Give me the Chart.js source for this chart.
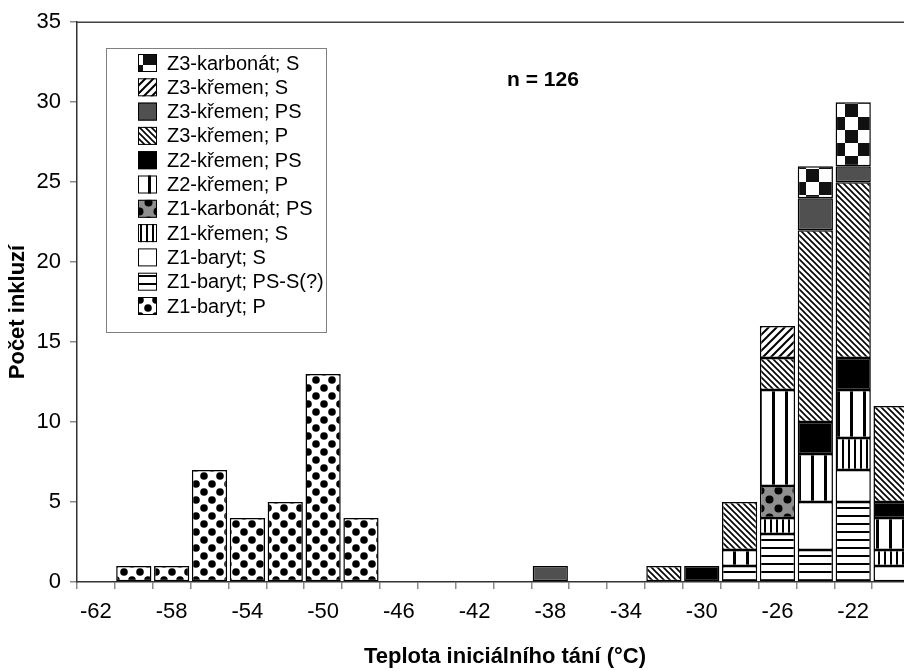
<!DOCTYPE html>
<html><head><meta charset="utf-8">
<script src="https://cdn.jsdelivr.net/npm/chart.js@4.4.1/dist/chart.umd.min.js"></script>
<style>
html,body{margin:0;padding:0;overflow:hidden;background:#fff;width:904px;height:671px}
#wrap{position:relative;width:920px;height:671px}
</style>
</head><body><div id="wrap"><canvas id="c" width="920" height="671"></canvas></div>
<script>
// ---- data ----
const categories = ['-62','-60','-58','-56','-54','-52','-50','-48','-46','-44','-42','-40','-38','-36','-34','-32','-30','-28','-26','-24','-22','-20'];
const tickLabels = ['-62','-58','-54','-50','-46','-42','-38','-34','-30','-26','-22'];
const yTickValues = [0,5,10,15,20,25,30,35];
//                     -62 -60 -58 -56 -54 -52 -50 -48 -46 -44 -42 -40 -38 -36 -34 -32 -30 -28 -26 -24 -22 -20
const z1BarytP      = [0,  1,  1,  7,  4,  5, 13,  4,  0,  0,  0,  0,  0,  0,  0,  0,  0,  0,  0,  0,  0,  0];
const z1BarytPSS    = [0,  0,  0,  0,  0,  0,  0,  0,  0,  0,  0,  0,  0,  0,  0,  0,  0,  1,  3,  2,  5,  0];
const z1BarytS      = [0,  0,  0,  0,  0,  0,  0,  0,  0,  0,  0,  0,  0,  0,  0,  0,  0,  0,  0,  3,  2,  1];
const z1KremenS     = [0,  0,  0,  0,  0,  0,  0,  0,  0,  0,  0,  0,  0,  0,  0,  0,  0,  0,  1,  0,  2,  1];
const z1KarbonatPS  = [0,  0,  0,  0,  0,  0,  0,  0,  0,  0,  0,  0,  0,  0,  0,  0,  0,  0,  2,  0,  0,  0];
const z2KremenP     = [0,  0,  0,  0,  0,  0,  0,  0,  0,  0,  0,  0,  0,  0,  0,  0,  0,  1,  6,  3,  3,  2];
const z2KremenPS    = [0,  0,  0,  0,  0,  0,  0,  0,  0,  0,  0,  0,  0,  0,  0,  0,  1,  0,  0,  2,  2,  1];
const z3KremenP     = [0,  0,  0,  0,  0,  0,  0,  0,  0,  0,  0,  0,  0,  0,  0,  1,  0,  3,  2, 12, 11,  6];
const z3KremenPS    = [0,  0,  0,  0,  0,  0,  0,  0,  0,  0,  0,  0,  1,  0,  0,  0,  0,  0,  0,  2,  1,  0];
const z3KremenS     = [0,  0,  0,  0,  0,  0,  0,  0,  0,  0,  0,  0,  0,  0,  0,  0,  0,  0,  2,  0,  0,  0];
const z3KarbonatS   = [0,  0,  0,  0,  0,  0,  0,  0,  0,  0,  0,  0,  0,  0,  0,  0,  0,  0,  0,  2,  4,  0];
const seriesLabels = ['Z1-baryt; P','Z1-baryt; PS-S(?)','Z1-baryt; S','Z1-křemen; S','Z1-karbonát; PS','Z2-křemen; P','Z2-křemen; PS','Z3-křemen; P','Z3-křemen; PS','Z3-křemen; S','Z3-karbonát; S'];
const seriesData = [z1BarytP,z1BarytPSS,z1BarytS,z1KremenS,z1KarbonatPS,z2KremenP,z2KremenPS,z3KremenP,z3KremenPS,z3KremenS,z3KarbonatS];
const sampleCount = 'n = 126';
const xTitle = 'Teplota iniciálního tání (°C)';
const yTitle = 'Počet inkluzí';

// ---- patterns (style) ----
function tile(w,h,draw){const c=document.createElement('canvas');c.width=w;c.height=h;const g=c.getContext('2d');draw(g,w,h);return g.createPattern(c,'repeat');}
function dot(g,x,y,r){g.beginPath();g.arc(x,y,r,0,Math.PI*2);g.fill();}
function diag(g,s,fwd,lw){g.strokeStyle='#000';g.lineWidth=lw;g.beginPath();for(let k=-1;k<=1;k++){if(fwd){g.moveTo(k*s-1,s+1);g.lineTo(k*s+s+1,-1);}else{g.moveTo(k*s-1,-1);g.lineTo(k*s+s+1,s+1);}}g.stroke();}
const fills = [
  tile(16,16,(g,w,h)=>{g.fillStyle='#fff';g.fillRect(0,0,w,h);g.fillStyle='#000';dot(g,4,4,3.8);dot(g,12,12,3.8);}),
  tile(8,8,(g,w,h)=>{g.fillStyle='#fff';g.fillRect(0,0,w,h);g.fillStyle='#000';g.fillRect(0,3,w,2);}),
  '#ffffff',
  tile(6,6,(g,w,h)=>{g.fillStyle='#fff';g.fillRect(0,0,w,h);g.fillStyle='#000';g.fillRect(2,0,2,h);}),
  tile(18,18,(g,w,h)=>{g.fillStyle='#8f8f8f';g.fillRect(0,0,w,h);g.fillStyle='#000';dot(g,4.5,4.5,4);dot(g,13.5,13.5,4);}),
  tile(13,13,(g,w,h)=>{g.fillStyle='#fff';g.fillRect(0,0,w,h);g.fillStyle='#000';g.fillRect(5,0,3,h);}),
  '#000000',
  tile(6,6,(g,w,h)=>{g.fillStyle='#fff';g.fillRect(0,0,w,h);diag(g,w,false,1.6);}),
  '#505050',
  tile(8,8,(g,w,h)=>{g.fillStyle='#fff';g.fillRect(0,0,w,h);diag(g,w,true,2);}),
  tile(26,26,(g,w,h)=>{g.fillStyle='#fff';g.fillRect(0,0,w,h);g.fillStyle='#111';g.fillRect(13,0,13,13);g.fillRect(0,13,13,13);})
];

const datasets = seriesLabels.map((lab,i)=>({
  label: lab,
  data: seriesData[i].map(v => v === 0 ? null : v),
  backgroundColor: fills[i],
  borderColor: '#000',
  borderWidth: 1.5,
  borderSkipped: false,
  categoryPercentage: 1.0,
  barPercentage: 0.93
}));

const FONT = '"Liberation Sans", Arial, sans-serif';

const decor = {
  id: 'decor',
  afterDraw(chart){
    const ctx = chart.ctx, a = chart.chartArea;
    ctx.save();
    // plot frame top/right
    ctx.strokeStyle = '#404040'; ctx.lineWidth = 1.5;
    ctx.beginPath(); ctx.moveTo(a.left, a.top); ctx.lineTo(a.right, a.top); ctx.lineTo(a.right, a.bottom); ctx.stroke();
    // legend box
    const bx = 106, by = 48, bw = 220, bh = 284;
    ctx.fillStyle = '#fff'; ctx.fillRect(bx, by, bw, bh);
    ctx.strokeStyle = '#808080'; ctx.lineWidth = 1; ctx.strokeRect(bx + 0.5, by + 0.5, bw, bh);
    const items = chart.data.datasets.slice().reverse();
    ctx.font = '20px ' + FONT; ctx.textBaseline = 'middle'; ctx.textAlign = 'left';
    items.forEach((d, i) => {
      const cy = 63 + i * 24.3;
      ctx.fillStyle = d.backgroundColor; ctx.fillRect(138, cy - 9, 19, 18);
      ctx.strokeStyle = '#000'; ctx.lineWidth = 1; ctx.strokeRect(138.5, cy - 8.5, 18, 17);
      ctx.fillStyle = '#000'; ctx.fillText(d.label, 167, cy + 1);
    });
    // n label
    ctx.font = 'bold 21px ' + FONT; ctx.textAlign = 'center'; ctx.fillStyle = '#000';
    ctx.fillText(sampleCount, 543, 80);
    // axis titles
    ctx.font = 'bold 22px ' + FONT;
    ctx.fillText(xTitle, 505, 657);
    ctx.translate(18, 312); ctx.rotate(-Math.PI / 2);
    ctx.fillText(yTitle, 0, 0);
    ctx.restore();
  }
};

new Chart(document.getElementById('c'), {
  type: 'bar',
  data: { labels: categories, datasets },
  options: {
    responsive: false,
    animation: false,
    layout: { padding: { top: 22, right: 10, bottom: 0, left: 0 } },
    plugins: { legend: { display: false }, tooltip: { enabled: false } },
    scales: {
      x: {
        stacked: true,
        offset: true,
        grid: { display: true, offset: true, drawOnChartArea: false, drawTicks: true, tickLength: 7, color: '#8a8a8a', lineWidth: 1.5 },
        border: { display: true, color: '#333', width: 1.5 },
        ticks: {
          autoSkip: false, maxRotation: 0, minRotation: 0, padding: 10, color: '#000',
          font: { family: FONT, size: 22 },
          callback: function(v, i){ const l = categories[i]; return tickLabels.includes(l) ? l : ''; }
        },
        afterFit(s){ s.height = 89; }
      },
      y: {
        stacked: true,
        min: 0, max: 35,
        afterBuildTicks(s){ s.ticks = yTickValues.map(v => ({ value: v })); },
        grid: { display: true, drawOnChartArea: false, drawTicks: true, tickLength: 7, color: '#8a8a8a', lineWidth: 1.5 },
        border: { display: true, color: '#333', width: 1.5 },
        ticks: { padding: 9, color: '#000', font: { family: FONT, size: 22 } },
        afterFit(s){ s.width = 77; }
      }
    }
  },
  plugins: [decor]
});
</script>
</body></html>
